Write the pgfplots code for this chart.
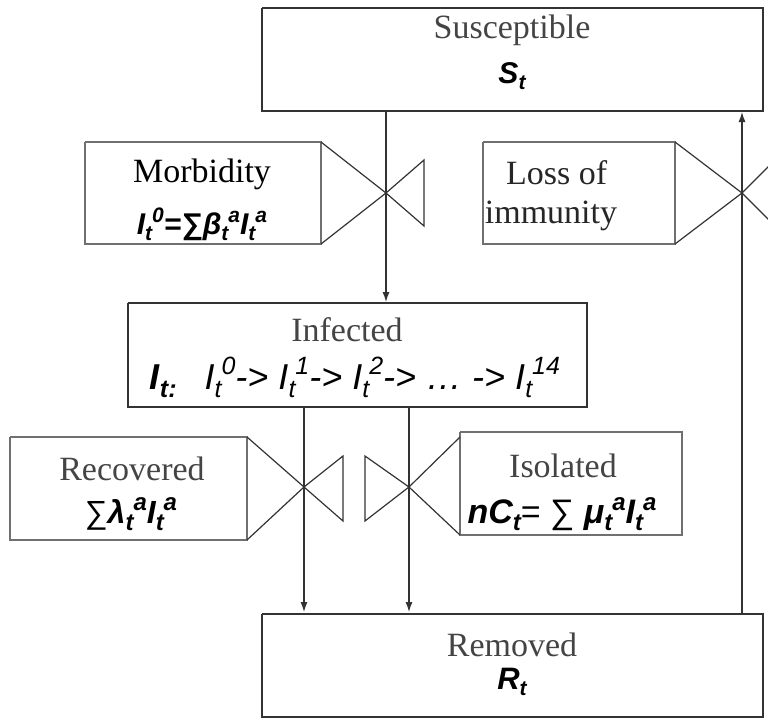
\documentclass[border=0pt]{standalone}
\usepackage{fontspec}
\setmainfont{Liberation Serif}
\newfontfamily\lsans{Liberation Sans}
\usepackage{pgfplots}
\pgfplotsset{compat=1.18}
\usetikzlibrary{arrows.meta}
\definecolor{txtgrey}{HTML}{444444}
\definecolor{boxline}{HTML}{333333}
\definecolor{greyline}{HTML}{707070}
\newcommand{\sbs}[1]{\raisebox{-0.4ex}{\fontsize{10.5}{10.5}\selectfont #1}}
\newcommand{\sps}[1]{\raisebox{0.75ex}{\fontsize{10.5}{10.5}\selectfont #1}}
\newcommand{\sbl}[1]{\raisebox{-0.4ex}{\fontsize{12.5}{12.5}\selectfont #1}}
\newcommand{\spl}[1]{\raisebox{0.8ex}{\fontsize{12.5}{12.5}\selectfont #1}}
\newcommand{\sbm}[1]{\raisebox{-0.4ex}{\fontsize{12}{12}\selectfont #1}}
\newcommand{\spm}[1]{\raisebox{0.75ex}{\fontsize{12}{12}\selectfont #1}}
\newcommand{\bi}{\lsans\bfseries\itshape}
\begin{document}
\begin{tikzpicture}
\begin{axis}[
  width=384pt, height=359pt, scale only axis,
  xmin=0, xmax=768, ymin=0, ymax=718, y dir=reverse,
  axis lines=none, ticks=none, clip=true,
  every axis plot/.append style={line width=0.6pt, line join=miter},
]
% frame of the picture (invisible)
\addplot[draw=none] coordinates {(0,0) (768,718)};
% main boxes
\addplot[boxline] coordinates {(262,8) (763,8) (763,111) (262,111) (262,8)};
\addplot[boxline] coordinates {(128,303) (587,303) (587,407) (128,407) (128,303)};
\addplot[boxline] coordinates {(262,614) (763,614) (763,717) (262,717) (262,614)};
% Morbidity
\addplot[greyline] coordinates {(85,142) (321,142) (321,244) (85,244) (85,142)};
\addplot[boxline] coordinates {(321,142) (386,193) (321,244)};
\addplot[boxline] coordinates {(386,193) (424,160) (424,226) (386,193)};
% Loss of immunity
\addplot[greyline] coordinates {(483,142) (675,142) (675,244) (483,244) (483,142)};
\addplot[boxline] coordinates {(675,142) (742,193) (675,244)};
\addplot[boxline] coordinates {(793,142) (742,193) (793,244)};
% Recovered
\addplot[greyline] coordinates {(10,437) (247,437) (247,540) (10,540) (10,437)};
\addplot[boxline] coordinates {(247,437) (304,487) (247,540)};
\addplot[boxline] coordinates {(304,487) (343,456) (343,521) (304,487)};
% Isolated
\addplot[greyline] coordinates {(460,432) (682,432) (682,535) (460,535) (460,432)};
\addplot[boxline] coordinates {(460,437) (409,487) (460,535)};
\addplot[boxline] coordinates {(409,487) (365,456) (365,521) (409,487)};
% flows
\addplot[boxline, -{Latex[length=5pt,width=3.5pt]}] coordinates {(386,111) (386,302)};
\addplot[boxline, -{Latex[length=5pt,width=3.5pt]}] coordinates {(304,407) (304,612)};
\addplot[boxline, -{Latex[length=5pt,width=3.5pt]}] coordinates {(409,407) (409,612)};
\addplot[boxline, -{Latex[length=5pt,width=3.5pt]}] coordinates {(742,614) (742,112)};
% texts
\node[text=txtgrey, font=\fontsize{17}{17}\selectfont] at (axis cs:512,30) {Susceptible};
\node[font=\fontsize{15}{15}\bi] at (axis cs:512,76) {S\sbs{t}};
\node[text=black, font=\fontsize{17}{17}\selectfont] at (axis cs:202,174) {Morbidity};
\node[font=\fontsize{15}{15}\bi] at (axis cs:202,224) {I\sbs{t}\sps{0}=∑β\sbs{t}\sps{a}I\sbs{t}\sps{a}};
\node[text=black!85, font=\fontsize{17}{17}\selectfont] at (axis cs:551,173) {\,\,Loss of};
\node[text=black!85, font=\fontsize{17}{17}\selectfont] at (axis cs:551,216) {immunity};
\node[text=txtgrey, font=\fontsize{17}{17}\selectfont] at (axis cs:347,330) {Infected};
\node[font=\fontsize{18}{18}\lsans\itshape] at (axis cs:355,377) {{\bfseries I\sbl{t:}}\enspace\ I\sbl{t}\spl{0}-> I\sbl{t}\spl{1}-> I\sbl{t}\spl{2}-> \dots\ -> I\sbl{t}\spl{14}};
\node[text=txtgrey, font=\fontsize{17}{17}\selectfont] at (axis cs:132,469) {Recovered};
\node[font=\fontsize{16}{16}\bi] at (axis cs:131,514) {{\mdseries\upshape ∑}λ\sbm{t}\spm{a}I\sbm{t}\spm{a}};
\node[text=txtgrey, font=\fontsize{17}{17}\selectfont] at (axis cs:563,466) {Isolated};
\node[font=\fontsize{17}{17}\bi] at (axis cs:562,514) {nC\sbm{t}{\mdseries\upshape= ∑} μ\sbm{t}\spm{a}I\sbm{t}\spm{a}};
\node[text=txtgrey, font=\fontsize{17}{17}\selectfont] at (axis cs:512,645) {Removed};
\node[font=\fontsize{15.5}{15.5}\bi] at (axis cs:512,682) {R\sbs{t}};
\end{axis}
\end{tikzpicture}
\end{document}
